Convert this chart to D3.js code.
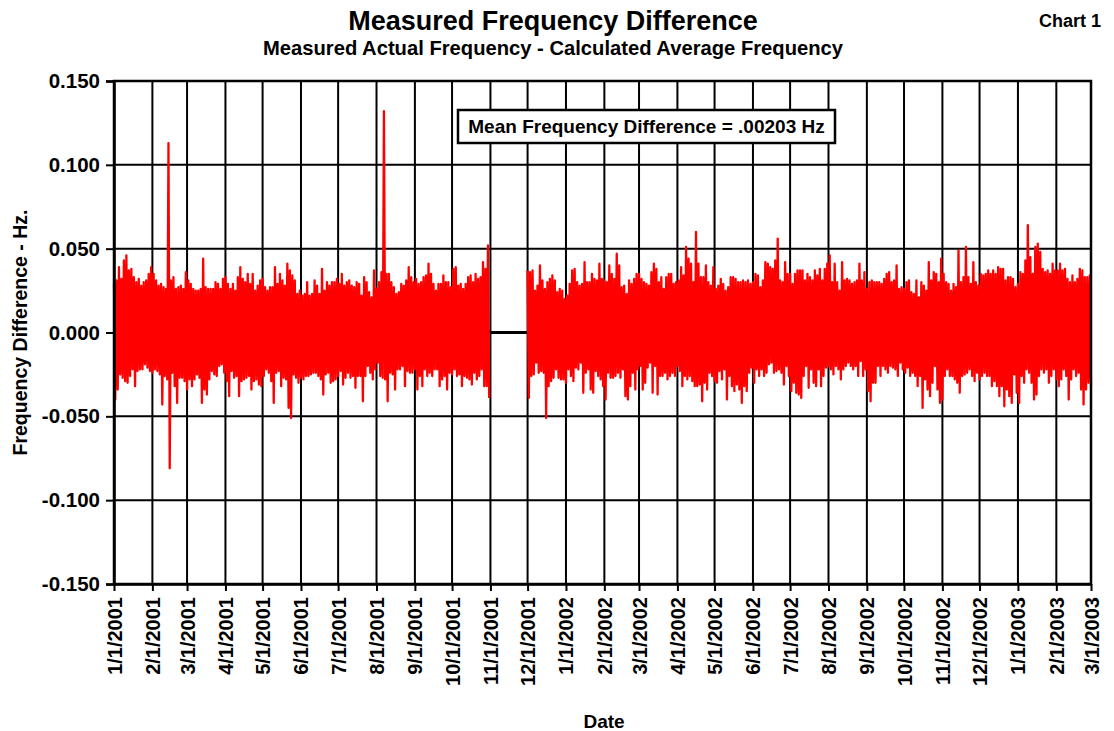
<!DOCTYPE html>
<html>
<head>
<meta charset="utf-8">
<script src="https://cdn.jsdelivr.net/npm/d3@7"></script>
<style>
    body { margin: 0; background: #fff; }
    text { font-family: "Liberation Sans", Arial, sans-serif; font-weight: bold; fill: #000; }
</style>
</head>
<body>
<div id="chart"></div>
<script>
//Textos
const TITLE = 'Measured Frequency Difference',
    SUBTITLE = 'Measured Actual Frequency - Calculated Average Frequency',
    CHART_NO = 'Chart 1',
    NOTE = 'Mean Frequency Difference = .00203 Hz',
    Y_TITLE = 'Frequency Difference - Hz.',
    X_TITLE = 'Date';

const yTicks = [-0.150, -0.100, -0.050, 0.000, 0.050, 0.100, 0.150];
const yTickLabels = ['-0.150', '-0.100', '-0.050', '0.000', '0.050', '0.100', '0.150'];
const xStart = '2001-01-01', xEnd = '2003-03-01';

//Datos: máximo y mínimo leídos por tramo de 2 días
//Tramo 1: desde 1/1/2001 hasta 31/10/2001
const seg1Start = '2001-01-01';
const hi2001 = [0.029,0.031,0.039,0.032,0.043,0.046,0.037,0.038,0.033,0.030,
    0.032,0.028,0.030,0.031,0.035,0.039,0.035,0.031,0.028,0.029,
    0.027,0.026,0.113,0.031,0.033,0.026,0.027,0.028,0.026,0.036,
    0.031,0.029,0.026,0.025,0.025,0.026,0.044,0.027,0.026,0.026,
    0.026,0.030,0.029,0.026,0.032,0.033,0.029,0.026,0.029,0.025,
    0.033,0.039,0.032,0.030,0.035,0.029,0.035,0.025,0.028,0.031,
    0.032,0.027,0.025,0.027,0.027,0.039,0.029,0.035,0.031,0.028,
    0.041,0.037,0.034,0.031,0.023,0.025,0.022,0.023,0.030,0.022,
    0.023,0.031,0.028,0.023,0.038,0.025,0.030,0.028,0.030,0.030,
    0.032,0.029,0.035,0.028,0.030,0.031,0.028,0.027,0.030,0.029,
    0.022,0.033,0.030,0.024,0.021,0.037,0.026,0.030,0.036,0.132,
    0.035,0.035,0.030,0.027,0.023,0.024,0.029,0.028,0.031,0.039,
    0.033,0.030,0.032,0.029,0.030,0.033,0.034,0.041,0.035,0.029,
    0.025,0.029,0.029,0.034,0.030,0.030,0.027,0.038,0.039,0.028,
    0.029,0.026,0.029,0.033,0.034,0.030,0.035,0.032,0.033,0.042,
    0.038,0.052];
const lo2001 = [-0.040,-0.034,-0.025,-0.027,-0.029,-0.030,-0.026,-0.022,-0.032,-0.023,
    -0.022,-0.022,-0.019,-0.021,-0.023,-0.024,-0.022,-0.023,-0.025,-0.043,
    -0.026,-0.028,-0.081,-0.024,-0.032,-0.042,-0.027,-0.027,-0.029,-0.034,
    -0.028,-0.032,-0.028,-0.025,-0.027,-0.042,-0.034,-0.037,-0.028,-0.023,
    -0.025,-0.026,-0.020,-0.019,-0.024,-0.029,-0.038,-0.023,-0.027,-0.026,
    -0.038,-0.029,-0.028,-0.027,-0.026,-0.034,-0.029,-0.028,-0.031,-0.032,
    -0.026,-0.022,-0.024,-0.029,-0.042,-0.024,-0.023,-0.032,-0.027,-0.028,
    -0.045,-0.051,-0.025,-0.027,-0.030,-0.027,-0.028,-0.026,-0.026,-0.025,
    -0.024,-0.024,-0.026,-0.028,-0.037,-0.025,-0.024,-0.030,-0.029,-0.028,
    -0.026,-0.023,-0.031,-0.027,-0.024,-0.027,-0.026,-0.033,-0.026,-0.026,
    -0.041,-0.026,-0.020,-0.024,-0.028,-0.022,-0.018,-0.026,-0.027,-0.028,
    -0.041,-0.024,-0.025,-0.034,-0.022,-0.022,-0.020,-0.032,-0.023,-0.024,
    -0.024,-0.022,-0.034,-0.026,-0.032,-0.022,-0.026,-0.024,-0.026,-0.022,
    -0.022,-0.032,-0.028,-0.026,-0.034,-0.024,-0.025,-0.022,-0.026,-0.025,
    -0.032,-0.026,-0.027,-0.028,-0.031,-0.024,-0.028,-0.026,-0.022,-0.032,
    -0.032,-0.039];

//Tramo 2: desde 1/12/2001 hasta 28/2/2003
const seg2Start = '2001-12-01';
const hi2002 = [0.037,0.036,0.037,0.025,0.028,0.040,0.031,0.026,0.030,0.032,
    0.034,0.031,0.024,0.026,0.025,0.020,0.022,0.029,0.037,0.038,
    0.030,0.028,0.029,0.042,0.030,0.030,0.035,0.032,0.031,0.041,
    0.032,0.031,0.030,0.040,0.035,0.032,0.047,0.040,0.027,0.028,
    0.023,0.031,0.029,0.032,0.035,0.035,0.032,0.030,0.029,0.028,
    0.036,0.041,0.038,0.030,0.033,0.026,0.033,0.035,0.035,0.029,
    0.030,0.031,0.039,0.034,0.051,0.044,0.041,0.030,0.060,0.041,
    0.033,0.033,0.040,0.030,0.028,0.039,0.026,0.028,0.032,0.029,
    0.025,0.027,0.033,0.033,0.032,0.030,0.030,0.031,0.030,0.031,
    0.029,0.030,0.035,0.034,0.027,0.031,0.042,0.041,0.039,0.038,
    0.043,0.056,0.031,0.030,0.042,0.035,0.035,0.029,0.035,0.037,
    0.037,0.037,0.031,0.035,0.033,0.031,0.037,0.034,0.038,0.031,
    0.038,0.041,0.046,0.030,0.041,0.030,0.025,0.042,0.031,0.032,
    0.031,0.029,0.030,0.031,0.041,0.031,0.036,0.026,0.030,0.031,
    0.030,0.030,0.030,0.029,0.032,0.035,0.036,0.030,0.031,0.040,
    0.026,0.027,0.026,0.030,0.031,0.024,0.023,0.031,0.021,0.030,
    0.028,0.025,0.042,0.031,0.036,0.035,0.030,0.044,0.035,0.030,
    0.029,0.025,0.029,0.027,0.049,0.030,0.033,0.051,0.033,0.029,
    0.042,0.030,0.028,0.035,0.034,0.035,0.037,0.035,0.037,0.035,
    0.039,0.038,0.038,0.031,0.033,0.033,0.032,0.027,0.029,0.036,
    0.035,0.043,0.064,0.045,0.035,0.051,0.053,0.048,0.038,0.036,
    0.037,0.035,0.041,0.037,0.037,0.041,0.037,0.038,0.032,0.030,
    0.034,0.030,0.032,0.038,0.037,0.033,0.033,0.034];
const lo2002 = [-0.039,-0.026,-0.025,-0.018,-0.024,-0.023,-0.024,-0.051,-0.032,-0.029,
    -0.027,-0.022,-0.027,-0.028,-0.028,-0.030,-0.022,-0.026,-0.029,-0.021,
    -0.022,-0.018,-0.036,-0.024,-0.022,-0.034,-0.036,-0.023,-0.026,-0.028,
    -0.032,-0.040,-0.024,-0.027,-0.027,-0.026,-0.024,-0.027,-0.022,-0.038,
    -0.040,-0.032,-0.024,-0.034,-0.022,-0.020,-0.034,-0.030,-0.021,-0.018,
    -0.036,-0.020,-0.037,-0.026,-0.026,-0.024,-0.028,-0.026,-0.024,-0.026,
    -0.020,-0.023,-0.032,-0.026,-0.028,-0.026,-0.029,-0.032,-0.032,-0.031,
    -0.041,-0.030,-0.034,-0.024,-0.026,-0.029,-0.030,-0.023,-0.028,-0.022,
    -0.040,-0.026,-0.032,-0.035,-0.031,-0.034,-0.042,-0.032,-0.035,-0.024,
    -0.021,-0.030,-0.022,-0.026,-0.022,-0.026,-0.024,-0.019,-0.018,-0.024,
    -0.023,-0.022,-0.024,-0.031,-0.020,-0.026,-0.035,-0.030,-0.036,-0.037,
    -0.039,-0.026,-0.020,-0.033,-0.022,-0.030,-0.032,-0.022,-0.032,-0.026,
    -0.021,-0.020,-0.022,-0.025,-0.020,-0.022,-0.028,-0.022,-0.020,-0.018,
    -0.020,-0.022,-0.020,-0.026,-0.017,-0.026,-0.022,-0.035,-0.041,-0.030,
    -0.030,-0.020,-0.026,-0.020,-0.022,-0.024,-0.020,-0.021,-0.022,-0.026,
    -0.018,-0.022,-0.024,-0.021,-0.026,-0.024,-0.026,-0.032,-0.026,-0.045,
    -0.028,-0.034,-0.038,-0.030,-0.020,-0.034,-0.042,-0.040,-0.026,-0.022,
    -0.026,-0.026,-0.028,-0.030,-0.036,-0.026,-0.025,-0.024,-0.022,-0.026,
    -0.029,-0.024,-0.028,-0.026,-0.024,-0.026,-0.026,-0.032,-0.029,-0.032,
    -0.038,-0.032,-0.044,-0.034,-0.038,-0.042,-0.025,-0.036,-0.042,-0.026,
    -0.030,-0.022,-0.024,-0.030,-0.040,-0.037,-0.026,-0.022,-0.024,-0.022,
    -0.030,-0.026,-0.022,-0.028,-0.032,-0.028,-0.022,-0.026,-0.040,-0.028,
    -0.022,-0.026,-0.024,-0.034,-0.043,-0.034,-0.030,-0.032];

//Colores fijos
const COLOR_LINE = '#FF0000';

let W = 1114, H = 731;
let margin = {top: 81, right: 23, bottom: 147, left: 114};

let svg = d3.select('#chart')
    .append('svg')
    .attr('width', W)
    .attr('height', H);

let parse = d3.utcParse('%Y-%m-%d');

let x = d3.scaleUtc()
    .domain([parse(xStart), parse(xEnd)])
    .range([margin.left, W - margin.right]);

let y = d3.scaleLinear()
    .domain([-0.15, 0.15])
    .range([H - margin.bottom, margin.top]);

let months = d3.utcMonth.range(parse(xStart), d3.utcDay.offset(parse(xEnd), 1));

//Rejilla
let grid = svg.append('g');
grid.selectAll('.vgrid')
    .data(months)
    .enter()
    .append('line')
    .attr('x1', function(d) { return x(d); })
    .attr('x2', function(d) { return x(d); })
    .attr('y1', y(0.15))
    .attr('y2', y(-0.15))
    .attr('stroke', '#000')
    .attr('stroke-width', 2);

grid.selectAll('.hgrid')
    .data(yTicks)
    .enter()
    .append('line')
    .attr('x1', x.range()[0])
    .attr('x2', x.range()[1])
    .attr('y1', function(d) { return y(d); })
    .attr('y2', function(d) { return y(d); })
    .attr('stroke', '#000')
    .attr('stroke-width', 2);

//Eje en el cero
svg.append('line')
    .attr('x1', x.range()[0])
    .attr('x2', x.range()[1])
    .attr('y1', y(0))
    .attr('y2', y(0))
    .attr('stroke', '#000')
    .attr('stroke-width', 3);

//Serie: zigzag entre máximo y mínimo de cada tramo
function buildPoints(start, hi, lo) {
    let s = parse(start), pts = [];
    hi.forEach(function(h, k) {
        pts.push([d3.utcDay.offset(s, 2 * k), h]);
        pts.push([d3.utcDay.offset(s, 2 * k + 1), lo[k]]);
    });
    return pts;
}

let line = d3.line()
    .x(function(d) { return x(d[0]); })
    .y(function(d) { return y(d[1]); });

[[seg1Start, hi2001, lo2001], [seg2Start, hi2002, lo2002]].forEach(function(seg) {
    svg.append('path')
        .datum(buildPoints(seg[0], seg[1], seg[2]))
        .attr('fill', 'none')
        .attr('stroke', COLOR_LINE)
        .attr('stroke-width', 2.3)
        .attr('stroke-linejoin', 'round')
        .attr('d', line);
});

//Ejes
let yAxis = svg.append('g')
    .attr('transform', 'translate(' + margin.left + ',0)')
    .call(d3.axisLeft(y).tickValues(yTicks).tickSize(8).tickPadding(6)
        .tickFormat(function(d, i) { return yTickLabels[i]; }));
yAxis.select('.domain').attr('stroke-width', 2.5);
yAxis.selectAll('.tick line').attr('stroke-width', 2);
yAxis.selectAll('text').style('font-size', '20.5px');

let xAxis = svg.append('g')
    .attr('transform', 'translate(0,' + y(-0.15) + ')')
    .call(d3.axisBottom(x).tickValues(months).tickSize(7).tickSizeOuter(0)
        .tickFormat(d3.utcFormat('%-m/%-d/%Y')));
xAxis.select('.domain').attr('stroke-width', 2.5);
xAxis.selectAll('.tick line').attr('stroke-width', 2);
xAxis.selectAll('text')
    .style('font-size', '20px')
    .style('text-anchor', 'end')
    .attr('x', -13)
    .attr('y', 0)
    .attr('dy', '0.35em')
    .attr('transform', 'rotate(-90)');

//Marco superior y derecho
svg.append('rect')
    .attr('x', x.range()[0])
    .attr('y', y(0.15))
    .attr('width', x.range()[1] - x.range()[0])
    .attr('height', y(-0.15) - y(0.15))
    .attr('fill', 'none')
    .attr('stroke', '#000')
    .attr('stroke-width', 2.5);

//Títulos
svg.append('text')
    .attr('x', 553).attr('y', 30)
    .attr('text-anchor', 'middle')
    .style('font-size', '27px')
    .text(TITLE);

svg.append('text')
    .attr('x', 553).attr('y', 55)
    .attr('text-anchor', 'middle')
    .style('font-size', '20.2px')
    .text(SUBTITLE);

svg.append('text')
    .attr('x', 1101).attr('y', 27)
    .attr('text-anchor', 'end')
    .style('font-size', '18px')
    .text(CHART_NO);

svg.append('text')
    .attr('transform', 'translate(27,' + y(0) + ') rotate(-90)')
    .attr('text-anchor', 'middle')
    .style('font-size', '19.5px')
    .text(Y_TITLE);

svg.append('text')
    .attr('x', 604).attr('y', 728)
    .attr('text-anchor', 'middle')
    .style('font-size', '19px')
    .text(X_TITLE);

//Caja de la media
svg.append('rect')
    .attr('x', 458).attr('y', 110)
    .attr('width', 377).attr('height', 33)
    .attr('fill', '#fff')
    .attr('stroke', '#000')
    .attr('stroke-width', 2.5);

svg.append('text')
    .attr('x', 646.5).attr('y', 133)
    .attr('text-anchor', 'middle')
    .style('font-size', '19px')
    .text(NOTE);
</script>
</body>
</html>
